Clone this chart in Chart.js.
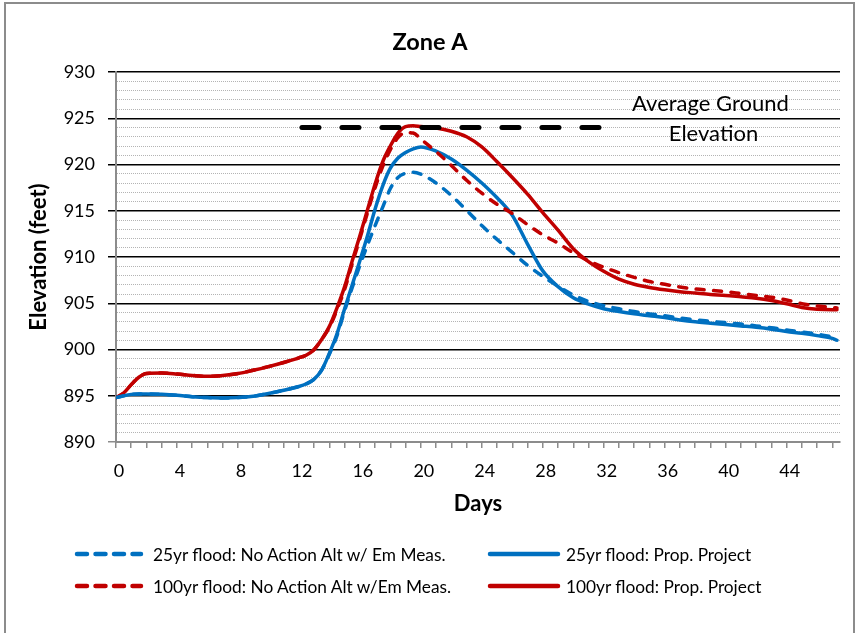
<!DOCTYPE html>
<html>
<head>
<meta charset="utf-8">
<script src="https://cdn.jsdelivr.net/npm/chart.js@4.4.1/dist/chart.umd.min.js"></script>
<style>
  html, body { margin: 0; padding: 0; background: #fff; }
  #wrap { position: relative; width: 859px; height: 633px; overflow: hidden; font-family: Lato, "Open Sans", sans-serif; }
  #frame { position: absolute; left: 4px; top: 2px; width: 851px; height: 700px; border: 2px solid #8c8c8c; box-sizing: border-box; pointer-events: none; }
  canvas { position: absolute; left: 0; top: 0; }
  .lg { position: absolute; display: flex; align-items: center; font-size: 17.3px; color: #000; white-space: nowrap; }
</style>
</head>
<body>
<div id="wrap">
  <canvas id="c" width="859" height="633"></canvas>
  <div id="frame"></div>
  <div id="legend"></div>
</div>
<script>
// ---- data ----
const days = [0,0.5,1,1.5,2,3,4,5,6,7,8,9,10,11,12,
  12.5,13,13.5,14,14.5,15,15.5,16,16.5,17,17.5,18,18.5,19,19.5,20,
  21,22,23,24,25,26,27,28,29,30,31,32,33,34,35,36,37,38,39,40,41,42,43,44,45,46,47,47.3];

const flood25NoAction = [894.8,895.0,895.15,895.2,895.2,895.15,895.05,894.9,894.8,894.75,894.8,894.95,895.25,895.6,896.0,
  896.3,896.8,897.8,899.5,901.5,904.2,906.7,909.1,911.3,913.4,915.4,917.4,918.6,919.05,919.15,918.95,
  918.0,916.65,915.05,913.4,911.9,910.5,909.1,907.9,906.85,905.9,905.2,904.75,904.4,904.1,903.85,903.65,903.4,903.2,903.05,902.9,902.75,902.55,902.35,902.1,901.9,901.65,901.35,901.15];

const flood25Project = [894.8,895.0,895.15,895.2,895.2,895.15,895.05,894.9,894.8,894.75,894.8,894.95,895.25,895.6,896.0,
  896.3,896.8,897.8,899.6,901.7,904.4,907.0,909.6,912.3,915.2,917.7,919.6,920.7,921.3,921.7,921.9,
  921.45,920.6,919.4,918.0,916.4,914.5,911.4,908.5,906.8,905.6,904.9,904.4,904.1,903.85,903.65,903.45,903.2,903.0,902.85,902.7,902.55,902.4,902.2,901.95,901.75,901.5,901.2,901.0];

const flood100NoAction = [894.8,895.3,896.2,897.0,897.4,897.45,897.35,897.2,897.1,897.2,897.4,897.75,898.15,898.6,899.1,
  899.4,900.0,901.1,902.4,904.3,906.5,909.3,912.0,914.8,917.5,919.8,921.6,922.9,923.45,923.4,922.75,
  921.4,919.9,918.3,916.9,915.7,914.7,913.5,912.4,911.5,910.45,909.6,908.9,908.3,907.8,907.35,907.05,906.75,906.55,906.4,906.25,906.05,905.85,905.65,905.35,904.95,904.7,904.55,904.5];

const flood100Project = [894.8,895.3,896.2,897.0,897.4,897.45,897.35,897.2,897.1,897.2,897.4,897.75,898.15,898.6,899.1,
  899.4,900.0,901.1,902.5,904.5,906.8,909.6,912.3,915.1,917.9,920.3,922.0,923.4,924.1,924.2,924.1,
  923.95,923.6,923.0,921.9,920.3,918.6,916.8,914.8,912.9,910.9,909.5,908.45,907.6,907.05,906.7,906.45,906.25,906.1,905.95,905.85,905.7,905.55,905.3,904.95,904.55,904.35,904.3,904.3];

const groundDays = [12.2, 31.9];
const groundElev = [924, 924];
const groundLabel = ['Average Ground', 'Elevation'];

const seriesNames = [
  '25yr flood: No Action Alt w/ Em Meas.',
  '25yr flood: Prop. Project',
  '100yr flood: No Action Alt w/Em Meas.',
  '100yr flood: Prop. Project'
];
const xTickLabels = [0,4,8,12,16,20,24,28,32,36,40,44];
const yMin = 890, yMax = 930, yMajor = 5;
const xMin = 0, xMax = 47.5;

// ---- styles ----
const BLUE = '#0070C0', RED = '#C00000';
const FONT = 'Lato, "Open Sans", sans-serif';

function pts(xs, ys) { return xs.map((d, i) => ({x: d, y: ys[i]})); }

const annotationPlugin = {
  id: 'groundText',
  afterDatasetsDraw(chart) {
    const {ctx, scales} = chart;
    ctx.save();
    ctx.font = '22px ' + FONT;
    ctx.fillStyle = '#000';
    ctx.textAlign = 'center';
    ctx.textBaseline = 'middle';
    ctx.fillText(groundLabel[0], scales.x.getPixelForValue(39.0), scales.y.getPixelForValue(926.5));
    ctx.fillText(groundLabel[1], scales.x.getPixelForValue(39.2), scales.y.getPixelForValue(923.35));
    ctx.restore();
  }
};

const lineBase = { pointRadius: 0, borderWidth: 3.5, cubicInterpolationMode: 'monotone', fill: false, borderCapStyle: 'round', borderJoinStyle: 'round' };

new Chart(document.getElementById('c'), {
  type: 'line',
  data: {
    datasets: [
      Object.assign({}, lineBase, { label: 'Average Ground Elevation', data: pts(groundDays, groundElev), borderColor: '#000', borderWidth: 5, borderDash: [17, 23], cubicInterpolationMode: 'default', tension: 0 }),
      Object.assign({}, lineBase, { label: seriesNames[0], data: pts(days, flood25NoAction), borderColor: BLUE, borderDash: [8, 9.5] }),
      Object.assign({}, lineBase, { label: seriesNames[2], data: pts(days, flood100NoAction), borderColor: RED, borderDash: [8, 9.5] }),
      Object.assign({}, lineBase, { label: seriesNames[1], data: pts(days, flood25Project), borderColor: BLUE }),
      Object.assign({}, lineBase, { label: seriesNames[3], data: pts(days, flood100Project), borderColor: RED })
    ]
  },
  options: {
    responsive: false,
    animation: false,
    devicePixelRatio: 1,
    layout: { padding: { left: 20, right: 19, top: 10, bottom: 100 } },
    plugins: {
      legend: { display: false },
      tooltip: { enabled: false },
      title: {
        display: true, text: 'Zone A', color: '#000',
        font: { family: FONT, size: 23.5, weight: 'bold', lineHeight: 1.2 },
        padding: { top: 17.9, bottom: 15.9 }
      }
    },
    scales: {
      x: {
        type: 'linear', min: xMin, max: xMax,
        afterFit(s) { s.height = 91; },
        border: { display: true, color: '#8c8c8c', width: 2 },
        grid: { drawOnChartArea: false, drawTicks: true, tickLength: 6, color: '#8c8c8c', lineWidth: 1.5 },
        ticks: {
          stepSize: 1, autoSkip: false, maxRotation: 0, minRotation: 0, includeBounds: false, maxTicksLimit: 200,
          padding: 12, labelOffset: 3, color: '#000',
          font: { family: FONT, size: 18 },
          callback: (v) => xTickLabels.includes(v) ? String(v) : ''
        },
        title: { display: true, text: 'Days', color: '#000', font: { family: FONT, size: 22, weight: 'bold', lineHeight: 1.2 }, padding: { top: 0, bottom: 15.8 } }
      },
      y: {
        type: 'linear', min: yMin, max: yMax,
        afterFit(s) { s.width = 96; },
        border: {
          display: true, color: '#8c8c8c', width: 2,
          dash: (ctx) => (ctx.tick && ctx.tick.value % yMajor !== 0) ? [1, 1] : []
        },
        grid: {
          drawTicks: true, tickLength: 8,
          color: (ctx) => {
            const v = ctx.tick ? ctx.tick.value : 0;
            if (v === yMin) return '#8c8c8c';
            return v % yMajor === 0 ? '#000' : '#b4b4b4';
          },
          lineWidth: (ctx) => (ctx.tick && ctx.tick.value % yMajor === 0) ? 1.5 : 1,
          tickColor: (ctx) => {
            const v = ctx.tick ? ctx.tick.value : 0;
            if (v % yMajor !== 0) return 'rgba(0,0,0,0)';
            return v === yMin ? '#8c8c8c' : '#000';
          }
        },
        ticks: {
          stepSize: 1, autoSkip: false, maxTicksLimit: 200, padding: 13, color: '#000',
          font: { family: FONT, size: 18 },
          callback: (v) => v % yMajor === 0 ? String(v) : ''
        },
        title: { display: true, text: 'Elevation (feet)', color: '#000', font: { family: FONT, size: 22, weight: 'bold', lineHeight: 1.2 }, padding: { top: 5.8, bottom: 0 } }
      }
    }
  },
  plugins: [annotationPlugin]
});

// ---- HTML legend ----
const legendItems = [
  { name: seriesNames[0], color: BLUE, dash: true, left: 74, top: 555, gap: 9 },
  { name: seriesNames[1], color: BLUE, dash: false, left: 487, top: 555, gap: 5 },
  { name: seriesNames[2], color: RED, dash: true, left: 74, top: 587, gap: 9 },
  { name: seriesNames[3], color: RED, dash: false, left: 487, top: 587, gap: 5 }
];
const lg = document.getElementById('legend');
legendItems.forEach(it => {
  const d = document.createElement('div');
  d.className = 'lg';
  d.style.left = it.left + 'px';
  d.style.top = (it.top - 12) + 'px';
  d.style.height = '22px';
  const w = it.dash ? 68 : 72;
  const svgNS = 'http://www.w3.org/2000/svg';
  const svg = document.createElementNS(svgNS, 'svg');
  svg.setAttribute('width', w + 2);
  svg.setAttribute('height', 10);
  svg.style.marginRight = it.gap + 'px';
  const ln = document.createElementNS(svgNS, 'line');
  ln.setAttribute('x1', 3); ln.setAttribute('x2', w - 1);
  ln.setAttribute('y1', 5); ln.setAttribute('y2', 5);
  ln.setAttribute('stroke', it.color);
  ln.setAttribute('stroke-width', 4.5);
  ln.setAttribute('stroke-linecap', 'round');
  if (it.dash) ln.setAttribute('stroke-dasharray', '10 8.5');
  svg.appendChild(ln);
  d.appendChild(svg);
  const t = document.createElement('span');
  t.textContent = it.name;
  d.appendChild(t);
  lg.appendChild(d);
});
</script>
</body>
</html>
